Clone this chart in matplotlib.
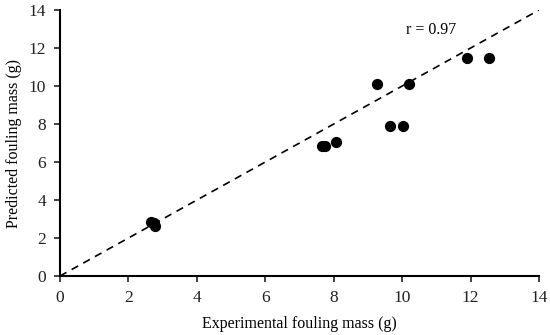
import matplotlib
matplotlib.use("Agg")
import matplotlib.pyplot as plt

plt.rcParams['font.family'] = ['Liberation Serif', 'DejaVu Serif']

experimental = [2.65, 2.75, 2.78, 7.65, 7.75, 8.07, 9.26, 9.65, 10.03, 10.19, 11.9, 12.53]
predicted = [2.82, 2.80, 2.65, 6.86, 6.86, 7.05, 10.12, 7.90, 7.90, 10.12, 11.50, 11.50]
ticks = [0, 2, 4, 6, 8, 10, 12, 14]
ideal = [0, 14]
r_label = "r = 0.97"

fig = plt.figure(figsize=(5.5, 3.35), dpi=100)
ax = fig.add_axes([0.109, 0.176, 0.871, 0.794])

ax.plot(ideal, ideal, linestyle=(0, (4.5, 3.5)), color='black', linewidth=1.2)
ax.scatter(experimental, predicted, s=50, color='black', zorder=3)

ax.set_xlim(0, 14)
ax.set_ylim(0, 14)
ax.set_xticks(ticks)
ax.set_yticks(ticks)
ax.tick_params(direction='out', length=4, width=1.2, labelsize=12.5, colors='#222222', pad=6)
for s in ['top', 'right']:
    ax.spines[s].set_visible(False)
for s in ['left', 'bottom']:
    ax.spines[s].set_linewidth(1.5)

ax.text(10.85, 12.95, r_label, fontsize=11.5, ha='center', va='center')
ax.set_xlabel('Experimental fouling mass (g)', fontsize=11.5, labelpad=7)
ax.set_ylabel('Predicted fouling mass (g)', fontsize=11.5, labelpad=5)

fig.savefig('out.png', dpi=100)
